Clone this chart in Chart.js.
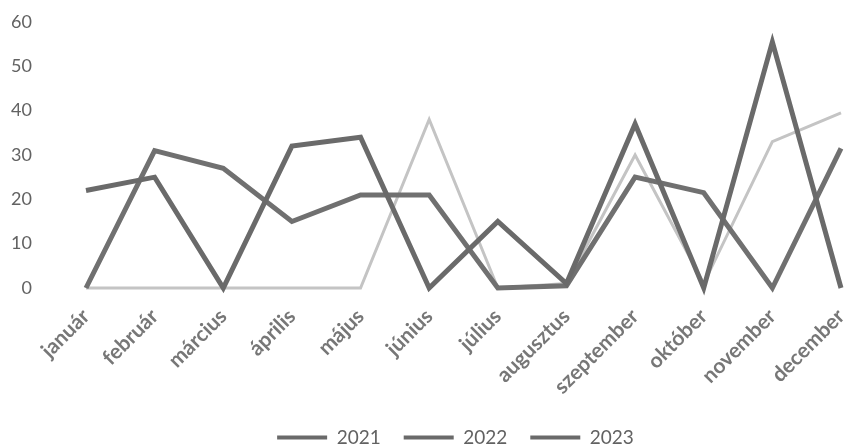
<!DOCTYPE html>
<html>
<head>
<meta charset="utf-8">
<script src="https://cdn.jsdelivr.net/npm/chart.js@4/dist/chart.umd.min.js"></script>
<style>
  html, body { margin: 0; padding: 0; background: #fff; }
  #wrap { width: 851px; height: 448px; }
</style>
</head>
<body>
<div id="wrap"><canvas id="chart"></canvas></div>
<script>
// chart data
const months = ['január','február','március','április','május','június','július','augusztus','szeptember','október','november','december'];
const years = ['2021','2022','2023'];
const values2021 = [22, 25, 0, 32, 34, 0, 15, 1, 37, 0, 55.5, 0];
const values2022 = [0, 31, 27, 15, 21, 21, 0, 0.5, 25, 21.5, 0, 31.5];
const values2023 = [0, 0, 0, 0, 0, 38, 0, 1, 30, 1, 33, 39.5];
const yTicks = [0, 10, 20, 30, 40, 50, 60];

const textColor = '#626262';
const darkLine = '#6a6a6a';
const lightLine = '#c4c4c4';

// the legend sits a little right of the canvas centre in the original
const legendShift = {
    id: 'legendShift',
    afterLayout: chart => {
        if (chart.legend) { chart.legend.left += 30; chart.legend.right += 30; }
    }
};

document.addEventListener('DOMContentLoaded', () => {
    const ctx = document.getElementById('chart');
    const mk = (label, data, color, width) => ({
        label, data,
        borderColor: color, backgroundColor: color,
        borderWidth: width, pointRadius: 0, tension: 0,
        borderJoinStyle: 'miter', clip: 12
    });

    new Chart(ctx, {
        type: 'line',
        data: {
            labels: months,
            datasets: [
                mk(years[0], values2021, darkLine, 5),
                mk(years[1], values2022, '#707070', 5),
                mk(years[2], values2023, lightLine, 3)
            ]
        },
        options: {
            responsive: true,
            maintainAspectRatio: false,
            animation: false,
            layout: { padding: 0 },
            plugins: {
                tooltip: { enabled: false },
                legend: {
                    position: 'bottom',
                    maxHeight: 43,
                    labels: {
                        color: textColor,
                        font: { family: 'Lato', size: 19 },
                        boxWidth: 50, boxHeight: 4, padding: 23,
                        generateLabels: chart => chart.data.datasets.map((d, i) => ({
                            text: d.label, fillStyle: darkLine, strokeStyle: darkLine,
                            lineWidth: 0, datasetIndex: i, fontColor: textColor
                        }))
                    }
                }
            },
            scales: {
                x: {
                    offset: false,
                    grid: { display: false, drawTicks: false },
                    border: { display: false },
                    afterFit: s => { s.height = 117; s.paddingLeft = 0; s.paddingRight = 10; },
                    ticks: {
                        color: '#777777', font: { family: 'Lato', size: 21, weight: 'bold' },
                        minRotation: 45, maxRotation: 45, padding: 16, autoSkip: false
                    }
                },
                y: {
                    min: 0, max: 60,
                    grid: { display: false, drawTicks: false },
                    border: { display: false },
                    afterFit: s => { s.width = 86; s.paddingTop = 22; s.paddingBottom = 0; },
                    afterBuildTicks: s => { s.ticks = yTicks.map(v => ({ value: v })); },
                    ticks: { color: textColor, font: { family: 'Lato', size: 18 }, padding: 54 }
                }
            }
        },
        plugins: [legendShift]
    });
});
</script>
</body>
</html>
